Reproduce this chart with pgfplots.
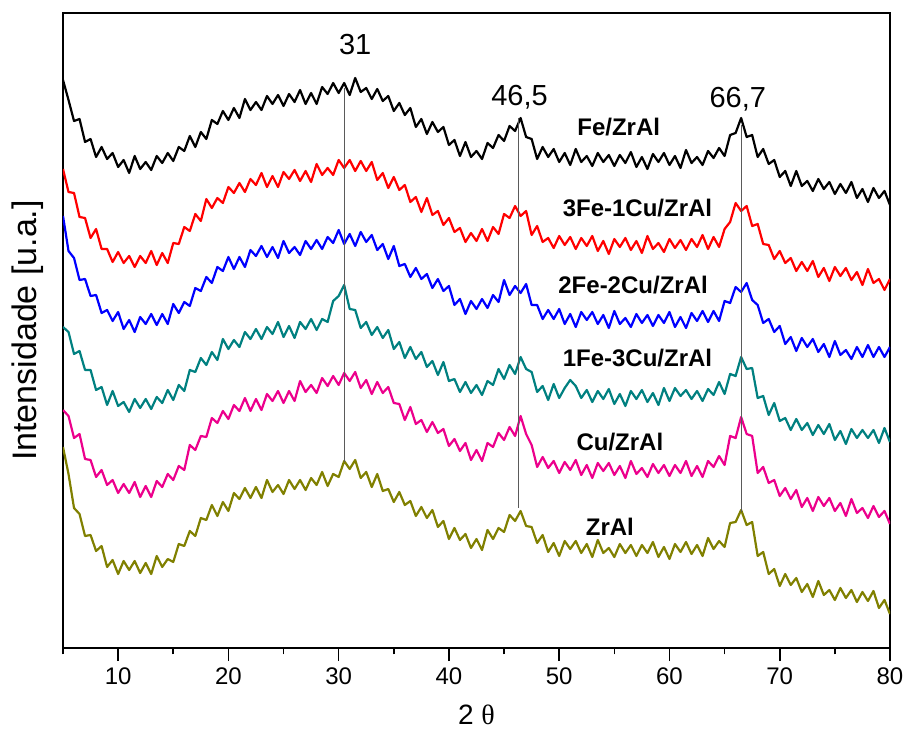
\documentclass[border=0pt]{standalone}
\usepackage{pgfplots}
\usepackage{pgfplotstable}
\pgfplotsset{compat=1.18}
\usepackage{fontspec}
\setmainfont{Liberation Sans}
\newfontfamily\greekfont{Liberation Serif}

\definecolor{xteal}{RGB}{0,128,128}
\definecolor{xolive}{RGB}{128,128,0}
\definecolor{peakline}{RGB}{90,90,90}

% 2theta, then one column per sample (k=Fe, r=3Fe-1Cu, b=2Fe-2Cu, t=1Fe-3Cu, m=Cu, o=ZrAl)
\pgfplotstableread{
x k r b t m o
5 80 169 216 327 410 447
5.5 100 192 251 332 416 474
6 121 193 258 354 438 508
6.5 119 217 280 351 434 514
7 142 218 279 370 459 536
7.5 139 238 296 370 460 535
8 157 229 295 390 477 551
8.5 147 249 313 387 470 546
9 159 249 310 405 485 567
9.5 153 262 321 391 480 560
10 167 252 312 406 493 574
10.5 160 263 329 402 484 561
11 173 256 320 412 493 570
11.5 156 267 332 399 482 561
12 169 256 317 408 497 573
12.5 162 263 324 399 486 563
13 170 251 314 409 497 574
13.5 156 265 325 397 481 556
14 163 253 314 403 487 567
14.5 153 263 324 390 474 559
15 161 243 304 400 480 562
15.5 147 244 313 385 466 544
16 151 227 302 391 470 546
16.5 136 231 306 370 445 531
17 147 214 288 372 450 536
17.5 132 221 291 358 436 518
18 139 199 277 365 437 520
18.5 120 208 283 352 418 505
19 124 198 267 360 423 516
19.5 111 203 271 339 411 502
20 120 187 257 349 419 511
20.5 108 193 269 340 405 493
21 118 183 257 347 411 499
21.5 99 192 267 332 398 488
22 110 179 250 339 411 498
22.5 102 185 256 329 399 487
23 110 173 246 339 410 498
23.5 96 187 257 327 394 480
24 104 176 247 334 401 492
24.5 95 187 258 322 391 485
25 106 172 241 337 403 494
25.5 94 179 253 326 391 480
26 102 170 247 338 401 489
26.5 90 181 255 322 381 480
27 104 171 241 329 392 490
27.5 93 182 249 319 385 478
28 104 164 240 330 393 485
28.5 87 175 249 319 378 472
29 94 168 237 322 386 486
29.5 83 175 243 301 376 474
30 93 160 230 296 385 477
30.5 83 168 244 285 373 461
31 95 160 234 309 381 469
31.5 78 171 246 310 372 460
32 92 161 232 328 388 478
32.5 88 171 242 322 380 472
33 99 162 235 335 394 487
33.5 89 180 250 327 382 474
34 101 173 244 338 393 491
34.5 96 188 259 330 387 489
35 111 177 246 349 403 502
35.5 103 190 266 342 404 492
36 115 185 264 358 420 505
36.5 108 202 277 347 407 501
37 127 197 268 359 424 516
37.5 119 212 279 352 420 507
38 134 198 274 367 432 518
38.5 122 215 288 361 422 510
39 132 211 279 375 433 527
39.5 127 225 291 362 429 521
40 145 218 286 381 446 539
40.5 140 232 305 379 439 528
41 156 228 299 392 451 540
41.5 142 242 314 382 443 534
42 157 233 301 393 460 548
42.5 151 241 309 385 450 539
43 159 229 299 395 461 550
43.5 143 241 308 381 443 530
44 148 227 295 385 447 539
44.5 135 234 302 369 433 528
45 141 214 280 379 440 532
45.5 126 218 295 365 427 515
46 131 206 286 374 436 521
46.5 118 216 293 357 416 511
47 137 211 284 369 434 526
47.5 139 235 305 372 445 527
48 159 226 305 392 467 543
48.5 147 242 319 386 457 535
49 157 238 310 400 468 552
49.5 149 248 319 384 461 543
50 162 236 309 398 473 556
50.5 153 245 324 388 462 541
51 165 237 314 380 470 549
51.5 149 249 327 386 460 541
52 162 238 312 398 475 553
52.5 156 246 320 390 465 544
53 166 236 312 402 478 557
53.5 153 251 324 391 463 540
54 162 241 315 399 471 553
54.5 155 254 328 389 463 548
55 166 239 311 404 475 557
55.5 155 247 324 394 466 544
56 163 238 318 406 478 553
56.5 152 250 327 391 461 545
57 167 241 314 399 474 556
57.5 157 253 323 390 468 545
58 169 236 315 402 477 553
58.5 154 249 326 393 464 542
59 162 243 315 405 473 557
59.5 153 252 323 388 465 547
60 165 239 312 401 476 559
60.5 156 248 327 388 465 544
61 168 240 317 396 473 552
61.5 150 250 328 390 461 542
62 163 239 313 399 476 554
62.5 157 247 321 391 466 545
63 165 235 311 401 477 556
63.5 151 249 322 389 461 538
64 158 237 311 395 467 549
64.5 148 247 321 382 456 541
65 156 229 301 394 465 547
65.5 135 222 303 374 436 523
66 133 203 287 376 438 522
66.5 118 211 292 357 417 510
67 137 206 283 369 434 525
67.5 135 226 300 368 436 522
68 157 224 305 398 473 556
68.5 149 244 323 396 467 552
69 164 245 319 415 483 574
69.5 160 259 332 403 480 569
70 177 251 326 421 496 586
70.5 171 263 344 418 488 574
71 186 258 337 430 499 585
71.5 171 271 351 419 490 578
72 186 262 338 430 507 592
72.5 181 271 347 423 498 584
73 191 261 339 435 511 597
73.5 179 277 352 425 497 581
74 189 268 344 434 506 595
74.5 182 281 357 424 498 590
75 194 267 341 440 511 600
75.5 184 276 355 431 503 588
76 193 268 350 444 516 598
76.5 182 280 359 429 499 590
77 198 272 347 438 513 602
77.5 189 285 357 430 508 592
78 202 269 345 438 518 601
78.5 188 283 357 430 506 591
79 198 279 347 443 517 608
79.5 191 290 357 428 511 600
80 205 279 347 442 524 614
}\xrd

\begin{document}
\begin{tikzpicture}
\path[use as bounding box] (-31.5pt,-45pt) rectangle (421.5pt,324pt);
\begin{axis}[
    at={(0,0)}, anchor=south west,
    width=413.5pt, height=317.5pt, scale only axis,
    xmin=5, xmax=80, ymin=13, ymax=648, y dir=reverse,
    xtick={10,20,...,80}, minor xtick={5,15,...,75}, ytick=\empty,
    xtick pos=bottom, tick align=outside,
    major tick length=6.5pt, minor tick length=3.2pt,
    tick style={black, line width=0.8pt},
    axis line style={line width=0.9pt},
    ticklabel style={font=\fontsize{12}{14}\selectfont},
    /pgf/number format/assume math mode=true,
    xlabel={2 {\greekfont θ}},
    ylabel={Intensidade [u.a.]},
    xlabel style={font=\fontsize{14}{16}\selectfont, at={(axis description cs:0.5,0)}, anchor=center, yshift=-33.5pt},
    ylabel style={font=\fontsize{17}{19}\selectfont, at={(axis description cs:0,0.5)}, anchor=center, yshift=17.5pt},
    every axis plot/.append style={line width=1.1pt, line join=round},
]
\addplot[black] table[x=x, y=k] {\xrd};
\addplot[red] table[x=x, y=r] {\xrd};
\addplot[blue] table[x=x, y=b] {\xrd};
\addplot[xteal] table[x=x, y=t] {\xrd};
\addplot[magenta] table[x=x, y=m] {\xrd};
\addplot[xolive] table[x=x, y=o] {\xrd};

\draw[peakline, line width=0.5pt] (axis cs:30.5,88) -- (axis cs:30.5,462);
\draw[peakline, line width=0.5pt] (axis cs:46.3,118) -- (axis cs:46.3,508);
\draw[peakline, line width=0.5pt] (axis cs:66.5,125) -- (axis cs:66.5,512);

\node[font=\fontsize{14.5}{16}\selectfont] at (axis cs:31.5,45) {31};
\node[font=\fontsize{14.5}{16}\selectfont] at (axis cs:46.4,97) {46,5};
\node[font=\fontsize{14.5}{16}\selectfont] at (axis cs:66.2,99) {66,7};

\node[font=\bfseries\fontsize{12}{14}\selectfont] at (axis cs:55.4,127) {Fe/ZrAl};
\node[font=\bfseries\fontsize{12}{14}\selectfont] at (axis cs:57.1,208) {3Fe-1Cu/ZrAl};
\node[font=\bfseries\fontsize{12}{14}\selectfont] at (axis cs:56.7,285) {2Fe-2Cu/ZrAl};
\node[font=\bfseries\fontsize{12}{14}\selectfont] at (axis cs:57.1,358) {1Fe-3Cu/ZrAl};
\node[font=\bfseries\fontsize{12}{14}\selectfont] at (axis cs:55.5,442) {Cu/ZrAl};
\node[font=\bfseries\fontsize{12}{14}\selectfont] at (axis cs:54.6,527) {ZrAl};
\end{axis}
\end{tikzpicture}
\end{document}
